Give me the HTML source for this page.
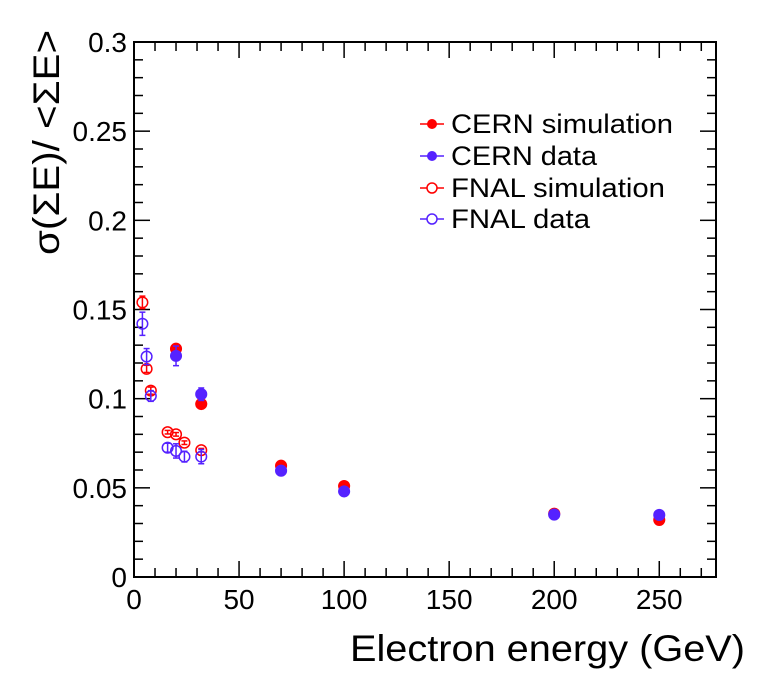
<!DOCTYPE html>
<html><head><meta charset="utf-8"><style>
body{margin:0;background:#fff;}
svg text{font-family:"Liberation Sans",sans-serif;fill:#000;}
</style></head><body>
<svg id="chart" width="762" height="677" viewBox="0 0 762 677" xmlns="http://www.w3.org/2000/svg">
<g id="axes"></g><g id="marks"></g>
<g font-size="27">
 <line x1="420" y1="124" x2="444" y2="124" stroke="#ff0000" stroke-width="1.5"/><circle cx="432" cy="124" r="5" fill="#ff0000"/>
 <text x="451" y="133" textLength="222" lengthAdjust="spacingAndGlyphs">CERN simulation</text>
 <line x1="420" y1="156" x2="444" y2="156" stroke="#5522ff" stroke-width="1.5"/><circle cx="432" cy="156" r="5" fill="#5522ff"/>
 <text x="451" y="165" textLength="146" lengthAdjust="spacingAndGlyphs">CERN data</text>
 <line x1="420" y1="188" x2="444" y2="188" stroke="#ff0000" stroke-width="1.5"/><circle cx="432" cy="188" r="5" fill="#fff" stroke="#ff0000" stroke-width="1.5"/>
 <text x="451" y="197" textLength="214" lengthAdjust="spacingAndGlyphs">FNAL simulation</text>
 <line x1="420" y1="219" x2="444" y2="219" stroke="#5522ff" stroke-width="1.5"/><circle cx="432" cy="219" r="5" fill="#fff" stroke="#5522ff" stroke-width="1.5"/>
 <text x="451" y="228" textLength="139" lengthAdjust="spacingAndGlyphs">FNAL data</text>
</g>
<text x="745" y="661" text-anchor="end" font-size="37" textLength="395" lengthAdjust="spacingAndGlyphs">Electron energy (GeV)</text>
<text transform="translate(59,30) rotate(-90)" text-anchor="end" font-size="37" textLength="225" lengthAdjust="spacingAndGlyphs">σ(ΣE)/ &lt;ΣE&gt;</text>
</svg>
<script>
const cernX=[20,32,70,100,200,250];
const cernSim=[0.128,0.097,0.0624,0.051,0.0355,0.032];
const cernData=[0.124,0.1025,0.0596,0.048,0.035,0.0348];
const cernDataErr=[0.0055,0.0035,0.001,0.001,0.001,0.001];
const fnalX=[4,6,8,16,20,24,32];
const fnalSim=[0.154,0.1167,0.1045,0.0812,0.080,0.0753,0.0711];
const fnalSimErr=[0.0035,0.002,0.002,0.001,0.001,0.001,0.001];
const fnalData=[0.142,0.1236,0.1015,0.0725,0.0707,0.0675,0.0675];
const fnalDataErr=[0.0065,0.0045,0.003,0.0025,0.004,0.003,0.004];
const xTicks=[0,50,100,150,200,250];
const yTicks=[0,0.05,0.1,0.15,0.2,0.25,0.3];
const yTickLabels=["0","0.05","0.1","0.15","0.2","0.25","0.3"];
const L=134,R=716,T=42,B=577,XMAX=277,YMAX=0.3;
const sx=v=>L+v/XMAX*(R-L), sy=v=>B-v/YMAX*(B-T);
const NS="http://www.w3.org/2000/svg";
const ax=document.getElementById('axes'), mk=document.getElementById('marks');
function el(tag,attrs,parent){const e=document.createElementNS(NS,tag);for(const k in attrs)e.setAttribute(k,attrs[k]);parent.appendChild(e);return e;}
const frame=el('rect',{x:L,y:T,width:R-L,height:B-T,fill:'none',stroke:'#000','stroke-width':2},ax);


for(let v=0;v<=XMAX;v+=10){const major=v%50===0;const l=major?16:9;
 el('line',{x1:sx(v),x2:sx(v),y1:B,y2:B-l,stroke:'#000','stroke-width':1.5},ax);
 el('line',{x1:sx(v),x2:sx(v),y1:T,y2:T+l,stroke:'#000','stroke-width':1.5},ax);}
for(let i=0;i<=30;i++){const v=i*0.01;const major=i%5===0;const l=major?16:9;
 el('line',{x1:L,x2:L+l,y1:sy(v),y2:sy(v),stroke:'#000','stroke-width':1.5},ax);
 el('line',{x1:R,x2:R-l,y1:sy(v),y2:sy(v),stroke:'#000','stroke-width':1.5},ax);}
xTicks.forEach(v=>{const t=el('text',{x:sx(v),y:B+32,'text-anchor':'middle','font-size':28},ax);t.textContent=v;
 
 });
yTicks.forEach((v,i)=>{const t=el('text',{x:L-7,y:sy(v)+10,'text-anchor':'end','font-size':28},ax);t.textContent=yTickLabels[i];
 
 });
function series(xs,ys,errs,color,open,name){
 xs.forEach((x,i)=>{
  if(errs){el('line',{x1:sx(x),x2:sx(x),y1:sy(ys[i]-errs[i]),y2:sy(ys[i]+errs[i]),stroke:color,'stroke-width':1.5},mk);
   [ys[i]-errs[i],ys[i]+errs[i]].forEach(e=>el('line',{x1:sx(x)-3,x2:sx(x)+3,y1:sy(e),y2:sy(e),stroke:color,'stroke-width':1.5},mk));}
  const c=el('circle',{cx:sx(x),cy:sy(ys[i]),r:5.3,fill:open?'none':color,stroke:color,'stroke-width':1.5},mk);
  
  
 });}
series(cernX,cernSim,null,'#ff0000',false,'cern-simulation');
series(cernX,cernData,cernDataErr,'#5522ff',false,'cern-data');
series(fnalX,fnalSim,fnalSimErr,'#ff0000',true,'fnal-simulation');
series(fnalX,fnalData,fnalDataErr,'#5522ff',true,'fnal-data');
</script>
</body></html>
